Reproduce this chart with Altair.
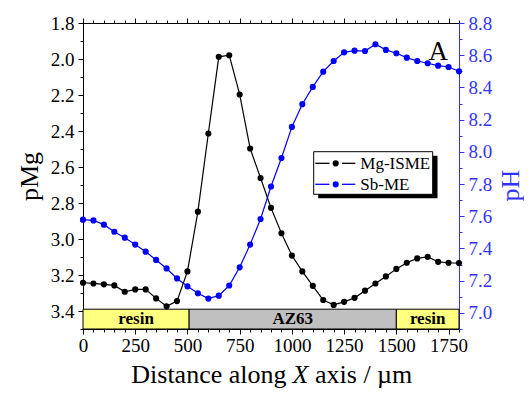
import altair as alt
import pandas as pd

# ---------------- data ----------------
x_um = [0, 50, 100, 150, 200, 250, 300, 350, 400, 450, 500, 550, 600, 650, 700,
        750, 800, 850, 900, 950, 1000, 1050, 1100, 1150, 1200, 1250, 1300, 1350,
        1400, 1450, 1500, 1550, 1600, 1650, 1700, 1750, 1800]
pmg = [3.243, 3.247, 3.252, 3.258, 3.293, 3.280, 3.280, 3.330, 3.374, 3.345,
       3.180, 2.848, 2.414, 1.988, 1.979, 2.197, 2.497, 2.661, 2.827, 2.968,
       3.092, 3.180, 3.260, 3.339, 3.366, 3.349, 3.327, 3.287, 3.247, 3.208,
       3.166, 3.132, 3.108, 3.099, 3.127, 3.132, 3.134]
ph = [7.579, 7.574, 7.548, 7.504, 7.467, 7.424, 7.380, 7.329, 7.276, 7.214,
      7.165, 7.122, 7.089, 7.107, 7.170, 7.283, 7.424, 7.583, 7.785, 7.962,
      8.155, 8.296, 8.403, 8.498, 8.564, 8.618, 8.628, 8.626, 8.668, 8.633,
      8.612, 8.585, 8.564, 8.550, 8.535, 8.527, 8.500]

series_names = ["Mg-ISME", "Sb-ME"]
series_colors = ["#000000", "#0000ff"]
axis_blue = "#3333ff"

band_labels = ["resin", "AZ63", "resin"]
band_start = [0, 508, 1500]
band_end = [508, 1500, 1800]
band_mid = [254, 1004, 1650]
band_colors = ["#ffff80", "#c0c0c0", "#ffff80"]
band_top = [3.39, 3.39, 3.39]
band_bottom = [3.5, 3.5, 3.5]
band_label_y = [3.445, 3.445, 3.445]

x_major = [0, 250, 500, 750, 1000, 1250, 1500, 1750]
x_minor = [0, 50, 100, 150, 200, 250, 300, 350, 400, 450, 500, 550, 600, 650,
           700, 750, 800, 850, 900, 950, 1000, 1050, 1100, 1150, 1200, 1250,
           1300, 1350, 1400, 1450, 1500, 1550, 1600, 1650, 1700, 1750, 1800]
pmg_major = [1.8, 2.0, 2.2, 2.4, 2.6, 2.8, 3.0, 3.2, 3.4]
pmg_minor = [1.8, 1.9, 2.0, 2.1, 2.2, 2.3, 2.4, 2.5, 2.6, 2.7, 2.8, 2.9, 3.0,
             3.1, 3.2, 3.3, 3.4, 3.5]
ph_major = [7.0, 7.2, 7.4, 7.6, 7.8, 8.0, 8.2, 8.4, 8.6, 8.8]
ph_minor = [6.9, 7.0, 7.1, 7.2, 7.3, 7.4, 7.5, 7.6, 7.7, 7.8, 7.9, 8.0, 8.1,
            8.2, 8.3, 8.4, 8.5, 8.6, 8.7, 8.8]

df = pd.DataFrame({"x": x_um, "pMg": pmg, "pH": ph})
bands = pd.DataFrame({"start": band_start, "end": band_end, "mid": band_mid,
                      "label": band_labels, "color": band_colors,
                      "top": band_top, "bottom": band_bottom, "ly": band_label_y})
one = pd.DataFrame({"k": [0]})

FONT = "Liberation Serif"
W, H = 376, 306

xscale = alt.Scale(domain=[0, 1800], nice=False, zero=False)
ylscale = alt.Scale(domain=[1.8, 3.5], reverse=True, nice=False, zero=False)
yrscale = alt.Scale(domain=[6.9, 8.8], nice=False, zero=False)

common = dict(grid=False, labelFont=FONT, labelFontSize=19, titleFont=FONT,
              titleFontSize=26, titleFontWeight="normal", domainWidth=1,
              tickWidth=1, labelOverlap=False, labelFlush=False, labelBound=False)

x_bottom = alt.Axis(orient="bottom", values=x_major, format="d", tickSize=5,
                    labelPadding=2, domainColor="black", tickColor="black",
                    labelColor="black", title=None, **common)
x_bottom_minor = alt.Axis(orient="bottom", values=x_minor, tickSize=3,
                          labels=False, domain=False, tickColor="black",
                          title=None, **common)
x_top = alt.Axis(orient="top", values=x_major, labels=False, tickSize=5,
                 domainColor="black", tickColor="black", title=None, **common)
x_top_minor = alt.Axis(orient="top", values=x_minor, labels=False, tickSize=3,
                       domain=False, tickColor="black", title=None, **common)
y_left = alt.Axis(orient="left", values=pmg_major, format=".1f", tickSize=5,
                  labelPadding=4, domainColor="black", tickColor="black",
                  labelColor="black", title="pMg", titleColor="black",
                  titlePadding=8, **common)
y_left_minor = alt.Axis(orient="left", values=pmg_minor, tickSize=3,
                        labels=False, domain=False, tickColor="black",
                        title=None, **common)
y_right = alt.Axis(orient="right", values=ph_major, format=".1f", tickSize=5,
                   labelPadding=4, domainColor=axis_blue, tickColor=axis_blue,
                   labelColor=axis_blue, title="pH", titleColor=axis_blue,
                   titleAngle=270, titleBaseline="top", titlePadding=6,
                   titleY=162, **common)
y_right_minor = alt.Axis(orient="right", values=ph_minor, tickSize=3,
                         labels=False, domain=False, tickColor=axis_blue,
                         title=None, **common)

layers = []

# ---------------- pMg side ----------------
layers.append(alt.Chart(bands).mark_rect(stroke="black", strokeWidth=1).encode(
    x=alt.X("start:Q", scale=xscale, axis=x_bottom),
    x2="end:Q",
    y=alt.Y("top:Q", scale=ylscale, axis=y_left),
    y2="bottom:Q",
    color=alt.Color("color:N", scale=None),
))
layers.append(alt.Chart(bands).mark_text(font=FONT, fontSize=17, fontWeight="bold",
                                         color="black", baseline="middle").encode(
    x=alt.X("mid:Q", scale=xscale, axis=None),
    y=alt.Y("ly:Q", scale=ylscale, axis=None),
    text="label:N",
))
layers.append(alt.Chart(df).mark_point(opacity=0).encode(
    x=alt.X("x:Q", scale=xscale, axis=x_bottom_minor),
    y=alt.Y("pMg:Q", scale=ylscale, axis=y_left_minor),
))

# ---------------- pH side ----------------
layers.append(alt.Chart(df).mark_line(color=series_colors[1], strokeWidth=1.2).encode(
    x=alt.X("x:Q", scale=xscale, axis=x_top),
    y=alt.Y("pH:Q", scale=yrscale, axis=y_right),
))
layers.append(alt.Chart(df).mark_circle(size=38, color=series_colors[1], opacity=1).encode(
    x=alt.X("x:Q", scale=xscale, axis=None),
    y=alt.Y("pH:Q", scale=yrscale, axis=None),
))
layers.append(alt.Chart(df).mark_point(opacity=0).encode(
    x=alt.X("x:Q", scale=xscale, axis=x_top_minor),
    y=alt.Y("pH:Q", scale=yrscale, axis=y_right_minor),
))

# ---------------- Mg series on top ----------------
layers.append(alt.Chart(df).mark_line(color=series_colors[0], strokeWidth=1.2).encode(
    x=alt.X("x:Q", scale=xscale, axis=None),
    y=alt.Y("pMg:Q", scale=ylscale, axis=None),
))
layers.append(alt.Chart(df).mark_circle(size=38, color=series_colors[0], opacity=1).encode(
    x=alt.X("x:Q", scale=xscale, axis=None),
    y=alt.Y("pMg:Q", scale=ylscale, axis=None),
))

# ---------------- annotations: legend, panel letter, x title ----------------
layers.append(alt.Chart(one).mark_rect(color="black").encode(
    x=alt.value(235.2), x2=alt.value(354.5), y=alt.value(132.7), y2=alt.value(175.3)))
layers.append(alt.Chart(one).mark_rect(fill="white", stroke="black", strokeWidth=1).encode(
    x=alt.value(230.7), x2=alt.value(349.7), y=alt.value(128.7), y2=alt.value(171.3)))
row_y = [140.3, 161.3]
for name, col, ry in zip(series_names, series_colors, row_y):
    layers.append(alt.Chart(one).mark_rule(color=col, strokeWidth=1.3).encode(
        x=alt.value(232.3), x2=alt.value(246.5), y=alt.value(ry)))
    layers.append(alt.Chart(one).mark_rule(color=col, strokeWidth=1.3).encode(
        x=alt.value(259.0), x2=alt.value(272.3), y=alt.value(ry)))
    layers.append(alt.Chart(one).mark_circle(size=38, color=col, opacity=1).encode(
        x=alt.value(252.7), y=alt.value(ry)))
    layers.append(alt.Chart(one).mark_text(font=FONT, fontSize=17, color="black",
                                           align="left", baseline="alphabetic").encode(
        x=alt.value(277.3), y=alt.value(ry + 5.2), text=alt.value(name)))

layers.append(alt.Chart(one).mark_text(font=FONT, fontSize=27, color="black",
                                       align="center", baseline="alphabetic").encode(
    x=alt.value(355.3), y=alt.value(36.5), text=alt.value("A")))

title_y = 360
layers.append(alt.Chart(one).mark_text(font=FONT, fontSize=26, color="black",
                                       align="right", baseline="alphabetic").encode(
    x=alt.value(203.5), y=alt.value(title_y), text=alt.value("Distance along")))
layers.append(alt.Chart(one).mark_text(font=FONT, fontSize=26, fontStyle="italic",
                                       color="black", align="left",
                                       baseline="alphabetic").encode(
    x=alt.value(209.5), y=alt.value(title_y), text=alt.value("X")))
layers.append(alt.Chart(one).mark_text(font=FONT, fontSize=26, color="black",
                                       align="left", baseline="alphabetic").encode(
    x=alt.value(232.0), y=alt.value(title_y), text=alt.value("axis / µm")))

chart = (
    alt.layer(*layers)
    .resolve_scale(y="independent")
    .resolve_axis(x="independent", y="independent")
    .properties(
        width=W, height=H,
        padding={"left": 75, "top": 15, "right": 65, "bottom": 59},
        autosize=alt.AutoSizeParams(type="none"),
    )
    .configure_view(stroke=None)
    .configure_axis(labelFont=FONT, titleFont=FONT, labelFontSize=19)
    .configure_text(font=FONT)
    .configure(background="white", font=FONT)
)

chart.save("out.html", embed_options={"renderer": "svg", "actions": False})
